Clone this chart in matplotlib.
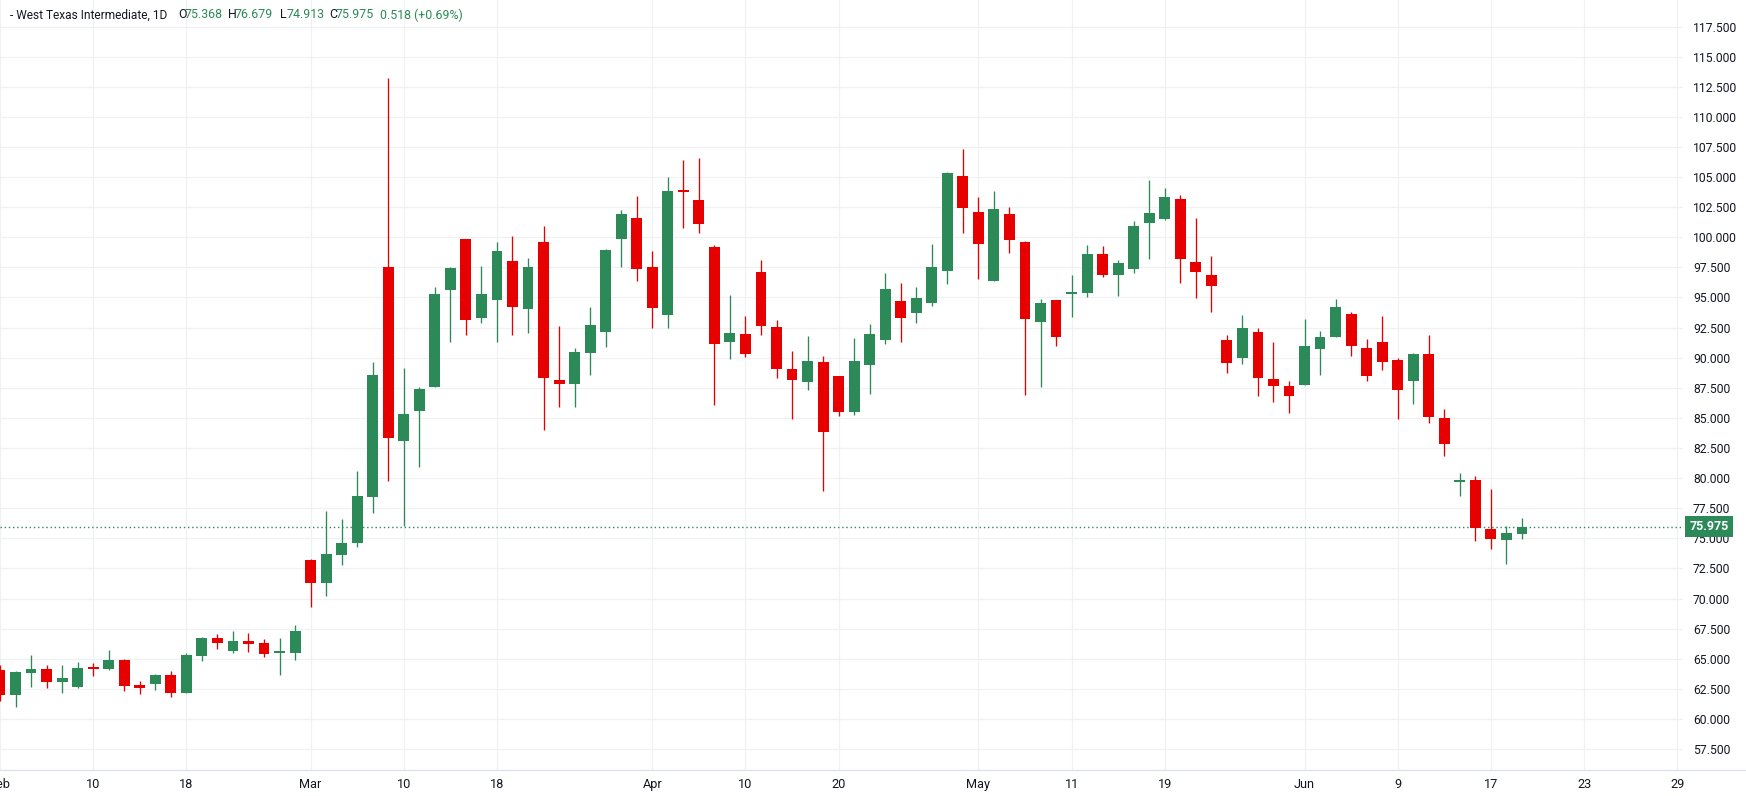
import numpy as np
import pandas as pd
import matplotlib
matplotlib.use("Agg")
import matplotlib.pyplot as plt
import matplotlib.transforms as mtransforms
from matplotlib.ticker import FormatStrFormatter
from matplotlib.lines import Line2D

# ---------------- data ----------------
title = "West Texas Intermediate, 1D"

opens = [64.06, 62.01, 63.84, 64.14, 63.09, 62.68, 64.26, 64.17, 64.89, 62.81,
         62.93, 63.65, 62.18, 65.25, 66.72, 65.67, 66.47, 66.30, 65.50, 65.50,
         73.20, 71.29, 73.61, 74.61, 78.46, 97.53, 83.11, 85.60, 87.59, 95.65,
         99.86, 93.33, 94.82, 98.03, 94.07, 99.61, 88.15, 87.84, 90.39, 92.14,
         99.86, 101.60, 97.53, 93.55, 103.90, 103.10, 99.20, 91.30, 91.97, 97.12,
         92.55, 89.06, 87.98, 89.64, 88.48, 85.49, 89.39, 91.47, 94.71, 93.71,
         94.54, 97.20, 105.09, 102.10, 96.37, 101.94, 99.61, 92.97, 94.79, 95.32,
         95.38, 98.61, 96.87, 97.37, 101.22, 101.52, 103.18, 97.95, 96.87, 91.47,
         90.00, 92.14, 88.23, 87.65, 87.76, 90.75, 91.75, 93.63, 90.81, 91.30,
         89.81, 88.09, 90.31, 84.99, 79.65, 79.84, 75.77, 74.89, 75.368]
highs = [64.50, 63.98, 65.31, 64.48, 64.48, 64.73, 64.64, 65.72, 64.98, 63.15,
         63.73, 63.98, 65.47, 66.80, 67.05, 67.30, 67.13, 66.64, 66.72, 67.80,
         73.28, 77.27, 76.60, 80.59, 89.64, 113.23, 89.15, 87.57, 95.87, 97.53,
         99.86, 97.62, 99.61, 100.11, 98.28, 100.94, 92.63, 90.81, 94.21, 99.03,
         102.27, 103.43, 98.86, 105.01, 106.42, 106.59, 99.36, 95.21, 93.46, 98.12,
         93.13, 90.56, 91.80, 90.14, 88.48, 91.64, 92.80, 97.04, 96.21, 95.87,
         99.44, 105.42, 107.33, 103.35, 103.85, 102.52, 99.69, 94.88, 94.79, 96.87,
         99.36, 99.28, 98.12, 101.36, 104.76, 104.09, 103.51, 101.60, 98.45, 91.88,
         93.55, 92.47, 91.30, 88.07, 93.22, 92.22, 94.88, 93.80, 91.55, 93.47,
         89.98, 90.39, 91.88, 85.74, 80.42, 80.17, 79.09, 76.02, 76.679]
lows = [61.50, 61.02, 62.68, 62.59, 62.18, 62.59, 63.59, 64.06, 62.34, 62.10,
        62.43, 61.85, 62.18, 64.84, 65.83, 65.50, 65.58, 65.17, 63.68, 64.92,
        69.29, 70.21, 72.78, 74.28, 77.13, 79.79, 76.00, 80.95, 87.59, 91.33,
        91.91, 92.91, 91.33, 91.91, 92.08, 84.02, 85.93, 85.93, 88.56, 90.89,
        97.53, 96.37, 92.47, 92.47, 100.77, 100.36, 86.07, 89.89, 90.06, 91.89,
        88.31, 84.91, 87.32, 78.93, 85.16, 85.24, 86.99, 91.14, 91.30, 92.88,
        94.29, 96.12, 100.36, 96.54, 96.37, 98.70, 86.90, 87.57, 90.97, 93.38,
        95.04, 96.70, 95.13, 97.04, 98.22, 101.44, 96.23, 94.99, 93.83, 88.76,
        89.50, 86.85, 86.35, 85.44, 87.76, 88.59, 91.75, 90.17, 88.07, 89.01,
        84.94, 86.18, 84.59, 81.86, 78.54, 74.80, 74.14, 72.89, 74.913]
closes = [61.99, 63.90, 64.14, 63.09, 63.40, 64.23, 64.17, 64.89, 62.76, 62.59,
          63.65, 62.18, 65.31, 66.72, 66.33, 66.47, 66.25, 65.42, 65.58, 67.30,
          71.29, 73.70, 74.61, 78.51, 88.56, 83.36, 85.33, 87.40, 95.29, 97.45,
          93.16, 95.29, 98.86, 94.24, 97.53, 88.34, 87.84, 90.47, 92.72, 98.95,
          101.94, 97.37, 94.13, 103.85, 103.80, 101.10, 91.14, 92.05, 90.31, 92.63,
          89.06, 88.15, 89.73, 83.83, 85.49, 89.73, 91.97, 95.71, 93.30, 94.96,
          97.53, 105.34, 102.43, 99.44, 102.35, 99.78, 93.22, 94.54, 91.72, 95.45,
          98.61, 96.87, 97.87, 100.94, 102.02, 103.35, 98.22, 97.15, 95.98, 89.54,
          92.47, 88.34, 87.68, 86.85, 90.97, 91.72, 94.21, 91.00, 88.51, 89.67,
          87.35, 90.31, 85.10, 82.86, 79.84, 75.88, 74.97, 75.457, 75.975]

# trading days (Good Friday closed)
dates = pd.bdate_range("2026-02-02", "2026-06-19").drop(pd.Timestamp("2026-04-03"))

tick_dates = ["2026-02-02", "2026-02-10", "2026-02-18", "2026-03-02", "2026-03-10",
              "2026-03-18", "2026-04-01", "2026-04-10", "2026-04-20", "2026-05-01",
              "2026-05-11", "2026-05-19", "2026-06-01", "2026-06-09", "2026-06-17",
              "2026-06-23", "2026-06-29"]
tick_labels = ["Feb", "10", "18", "Mar", "10", "18", "Apr", "10", "20", "May",
               "11", "19", "Jun", "9", "17", "23", "29"]

price_ticks = [57.5, 60.0, 62.5, 65.0, 67.5, 70.0, 72.5, 75.0, 77.5, 80.0, 82.5,
               85.0, 87.5, 90.0, 92.5, 95.0, 97.5, 100.0, 102.5, 105.0, 107.5,
               110.0, 112.5, 115.0, 117.5]

# ---------------- style ----------------
GREEN = "#2b8a57"
RED = "#e60000"
DARK = "#131722"
GRID = "#f0f1f4"
FONT = ["Roboto", "DejaVu Sans"]
plt.rcParams["font.family"] = FONT

W, H = 1746, 796
fig = plt.figure(figsize=(W / 100, H / 100), dpi=100)
fig.patch.set_facecolor("white")
ax = fig.add_axes([0, 26 / H, 1683 / W, 1 - 26 / H])

o = np.array(opens); h = np.array(highs); l = np.array(lows); c = np.array(closes)
x = np.arange(len(o))
colors = np.where(c >= o, GREEN, RED)

ax.vlines(x, l, h, colors=colors, linewidth=0.95, zorder=3)
body_bottom = np.minimum(o, c)
body_h = np.maximum(np.abs(c - o), 0.11)
ax.bar(x, body_h, bottom=body_bottom, width=0.7, color=colors, linewidth=0, zorder=4)

# last price dotted line
ax.axhline(c[-1], color=GREEN, linestyle=(0, (1, 2)), linewidth=1.0, zorder=2)

# x positions of ticks: trading-day index, future dates in calendar days
def date_pos(d):
    d = pd.Timestamp(d)
    if d <= dates[-1]:
        return int(dates.get_loc(d))
    return len(dates) - 1 + (d - dates[-1]).days

tick_pos = [date_pos(d) for d in tick_dates]

ax.set_xlim(0.21, 108.37)
ax.set_ylim(55.756, 119.709)

ax.set_xticks(tick_pos)
ax.set_xticklabels(tick_labels)
ax.set_yticks(price_ticks)
ax.yaxis.set_major_formatter(FormatStrFormatter("%.3f"))
ax.yaxis.tick_right()
ax.tick_params(axis="y", length=0, pad=7.2, labelsize=8.7, labelcolor=DARK)
ax.tick_params(axis="x", length=0, pad=6, labelsize=9.2, labelcolor=DARK)

ax.set_axisbelow(True)
ax.grid(True, color=GRID, linewidth=0.9)
for s in ax.spines.values():
    s.set_visible(False)

# bottom axis line across full width
fig.add_artist(Line2D([0, 1], [26 / H, 26 / H], color="#e0e3eb", linewidth=1.0,
                      transform=fig.transFigure))

# last price label on the scale
ax.text(1709 / W, c[-1], f"{c[-1]:.3f}", color="white", fontweight="bold", fontsize=9,
        ha="center", va="center", clip_on=False, zorder=10,
        transform=mtransforms.blended_transform_factory(fig.transFigure, ax.transData),
        bbox=dict(boxstyle="square,pad=0.32", fc=GREEN, ec="none"))

# header legend (pieces at the reference's pixel positions)
chg = c[-1] - c[-2]
pct = chg / c[-2] * 100
pieces = [("- " + title, DARK, 10, 8.6), ("O", DARK, 178, 8.9), (f"{o[-1]:.3f}", GREEN, 185, 8.9),
          ("H", DARK, 228, 8.9), (f"{h[-1]:.3f}", GREEN, 235, 8.9),
          ("L", DARK, 280, 8.9), (f"{l[-1]:.3f}", GREEN, 287, 8.9),
          ("C", DARK, 329, 8.9), (f"{c[-1]:.3f}", GREEN, 336, 8.9),
          (f"{chg:.3f} ({pct:+.2f}%)", GREEN, 380, 8.9)]
for s, col, px, fs in pieces:
    fig.text(px / W, 1 - 15 / H, s, fontsize=fs, color=col, va="center", ha="left")

fig.savefig("out.png", dpi=100, facecolor="white")
